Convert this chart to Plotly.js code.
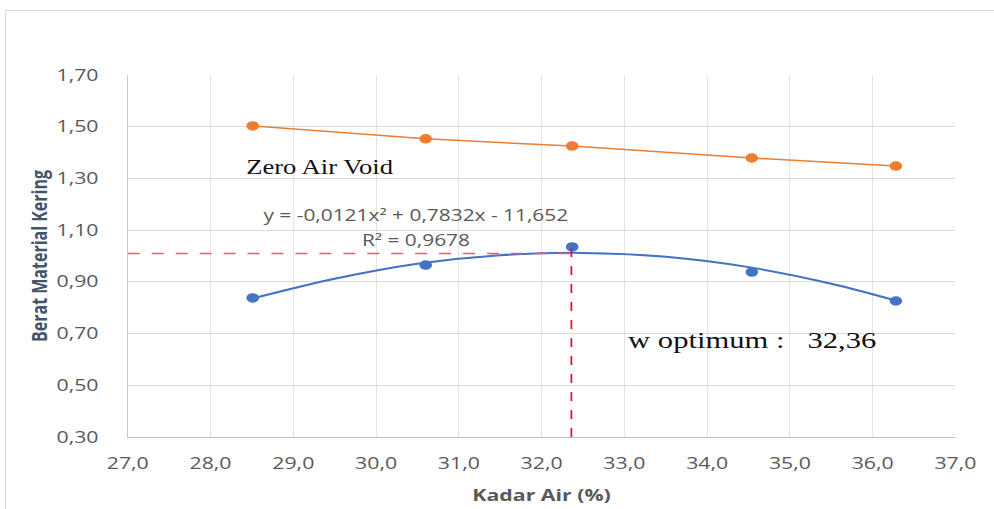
<!DOCTYPE html>
<html><head><meta charset="utf-8">
<script src="https://cdn.plot.ly/plotly-3.0.1.min.js"></script>
<style>
body{margin:0;background:#fff;overflow:hidden;}
#frame{position:absolute;left:5px;top:10px;width:995px;height:505px;border:1px solid #d9d9d9;}
#chart{position:absolute;left:0;top:0;width:747px;height:509px;transform:scaleX(1.3307);transform-origin:0 0;}
</style></head><body>
<div id="frame"></div>
<div id="chart"></div>
<script>
// Data
const kadarAir = [28.51, 30.60, 32.37, 34.54, 36.28];
const zavValues = [1.503, 1.453, 1.425, 1.379, 1.348];
const beratKering = [0.838, 0.965, 1.035, 0.938, 0.826];
// polynomial trendline as drawn on the chart, read at points along the curve
const trendX = [28.5, 29.5, 30.5, 31.5, 32.5, 33.5, 34.5, 35.5, 36.3];
const trendY = [0.835, 0.912, 0.970, 1.003, 1.012, 0.997, 0.957, 0.893, 0.826];
const wOpt = 32.36;
const dOpt = 1.01;
const xTicks = [27, 28, 29, 30, 31, 32, 33, 34, 35, 36, 37];
const yTicks = [0.30, 0.50, 0.70, 0.90, 1.10, 1.30, 1.50, 1.70];

const traces = [
  {x: kadarAir, y: zavValues, mode: 'lines+markers', type: 'scatter',
   line: {color: '#ED7D31', width: 1.5}, marker: {color: '#ED7D31', size: 9.5}, hoverinfo: 'none'},
  {x: trendX, y: trendY, mode: 'lines', type: 'scatter',
   line: {color: '#4472C4', width: 2, shape: 'spline'}, hoverinfo: 'none'},
  {x: kadarAir, y: beratKering, mode: 'markers', type: 'scatter',
   marker: {color: '#4472C4', size: 9.5}, hoverinfo: 'none'}
];

const gray = '#595959';
const layout = {
  width: 747, height: 509,
  margin: {l: 95.5, r: 29.3, t: 75, b: 72},
  paper_bgcolor: 'rgba(0,0,0,0)', plot_bgcolor: '#fff',
  showlegend: false,
  separators: ', ',
  font: {family: 'Open Sans, sans-serif', color: gray},
  xaxis: {range: [27, 37], tickvals: xTicks, tickformat: '.1f',
    showgrid: true, gridcolor: '#e0e0e0', gridwidth: 0.75, zeroline: false,
    showline: true, linecolor: '#bfbfbf', linewidth: 1, ticks: '', ticklabelstandoff: 12,
    tickfont: {size: 16, color: gray},
    title: {text: '<b>Kadar Air (%)</b>', font: {size: 16, color: gray}, standoff: 16}},
  yaxis: {range: [0.30, 1.70], tickvals: yTicks, tickformat: '.2f',
    showgrid: true, gridcolor: '#d9d9d9', zeroline: false,
    showline: true, linecolor: '#bfbfbf', linewidth: 0.75, ticks: '', ticklabelstandoff: 18,
    tickfont: {size: 16, color: gray},
    title: {text: '<b>Berat Material Kering</b>', font: {size: 16, color: '#44546A'}, standoff: 2}},
  shapes: [
    {type: 'line', xref: 'x', yref: 'y', x0: 27, x1: wOpt + 0.05, y0: dOpt, y1: dOpt,
     line: {color: '#EC5a6E', width: 1.5, dash: 'dash'}},
    {type: 'line', xref: 'x', yref: 'y', x0: wOpt, x1: wOpt, y0: 0.30, y1: beratKering[2],
     line: {color: '#E0102F', width: 1.3, dash: 'dash'}}
  ],
  annotations: [
    {x: 28.40, y: 1.345, xref: 'x', yref: 'y', xanchor: 'left', showarrow: false,
     text: 'Zero Air Void', font: {family: 'Liberation Serif, Times New Roman, serif', size: 20, color: '#111'}},
    {x: 30.48, y: 1.157, xref: 'x', yref: 'y', xanchor: 'center', showarrow: false,
     text: 'y = -0,0121x² + 0,7832x - 11,652', font: {size: 15.7, color: gray}},
    {x: 30.48, y: 1.060, xref: 'x', yref: 'y', xanchor: 'center', showarrow: false,
     text: 'R² = 0,9678', font: {size: 15.7, color: gray}},
    {x: 33.01, y: 0.675, xref: 'x', yref: 'y', xanchor: 'left', showarrow: false,
     text: 'w optimum :&nbsp;&nbsp;&nbsp;32,36', font: {family: 'Liberation Serif, Times New Roman, serif', size: 23, color: '#111'}}
  ]
};
Plotly.newPlot('chart', traces, layout, {displayModeBar: false, staticPlot: true});
</script></body></html>
